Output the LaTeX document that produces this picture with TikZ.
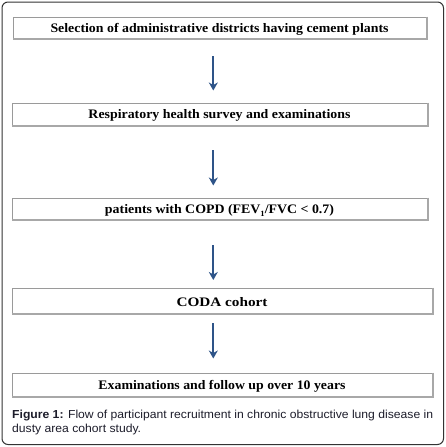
\documentclass[tikz,border=0pt]{standalone}
\usepackage{fontspec}
\usepackage{graphicx}
\setmainfont{Liberation Serif}
\newfontfamily\capfont{Liberation Sans}
\usetikzlibrary{arrows.meta}
\definecolor{arrowblue}{HTML}{2E5488}
\definecolor{boxgray}{HTML}{9A9A9A}
\definecolor{shadowgray}{HTML}{A8A8A8}
\definecolor{captext}{HTML}{1C1C2A}
\newcommand{\fitw}[2]{\resizebox{#1}{\height}{#2}}
\tikzset{
  stepbox/.style={draw=boxgray, line width=0.8pt, rectangle, inner sep=0pt,
    text height=9pt, text depth=0pt, font=\bfseries\fontsize{13}{15}\selectfont},
  flowarrow/.style={draw=arrowblue, line width=2.1pt, -{Stealth[length=8pt,width=9pt,inset=2.5pt]}},
}
\newcommand{\shadowbox}[1]{%
  \draw[shadowgray, line width=1.8pt] ([xshift=0.4pt]#1.north east) -- ([xshift=0.4pt,yshift=-0.4pt]#1.south east) -- ([yshift=-0.4pt]#1.south west);}
\begin{document}
\begin{tikzpicture}[x=1pt,y=-1pt]
\useasboundingbox (0,0) rectangle (446,447);
\draw[rounded corners=6pt, line width=1pt, draw=black!80] (2,2) rectangle (443.5,444.5);
\node[stepbox, minimum width=413pt, minimum height=21pt] (b1) at (219.5,27.5) {\fitw{338pt}{Selection of administrative districts having cement plants}};
\node[stepbox, minimum width=415pt, minimum height=22pt] (b2) at (219.5,114) {\fitw{262pt}{Respiratory health survey and examinations}};
\node[stepbox, minimum width=415pt, minimum height=21pt, text height=10pt] (b3) at (219.5,208.5) {\fitw{229pt}{patients with COPD (FEV\raisebox{-2.5pt}{\fontsize{8}{8}\selectfont 1}/FVC < 0.7)}};
\node[stepbox, minimum width=420pt, minimum height=25pt, text height=12pt] (b4) at (222,300.5) {\fitw{91pt}{CODA cohort}};
\node[stepbox, minimum width=420pt, minimum height=23pt] (b5) at (222,384.5) {\fitw{247pt}{Examinations and follow up over 10 years}};
\shadowbox{b1}\shadowbox{b2}\shadowbox{b3}\shadowbox{b4}\shadowbox{b5}
\coordinate (a1s) at (213.3,56); \coordinate (a1e) at (213.3,90.5);
\coordinate (a2s) at (213.3,150); \coordinate (a2e) at (213.3,185.5);
\coordinate (a3s) at (213.3,245); \coordinate (a3e) at (213.3,280);
\coordinate (a4s) at (213.3,323); \coordinate (a4e) at (213.3,358.5);
\draw[flowarrow] (a1s) -- (a1e);
\draw[flowarrow] (a2s) -- (a2e);
\draw[flowarrow] (a3s) -- (a3e);
\draw[flowarrow] (a4s) -- (a4e);
\node[anchor=base west, inner sep=0pt, text=captext, font=\capfont\fontsize{11.6}{13.5}\selectfont] (cap) at (12,418.5) {\fitw{421pt}{\begin{tabular}[t]{@{}l@{}}\textbf{Figure 1:} Flow of participant recruitment in chronic obstructive lung disease in\\dusty area cohort study.\end{tabular}}};
\end{tikzpicture}
\end{document}
